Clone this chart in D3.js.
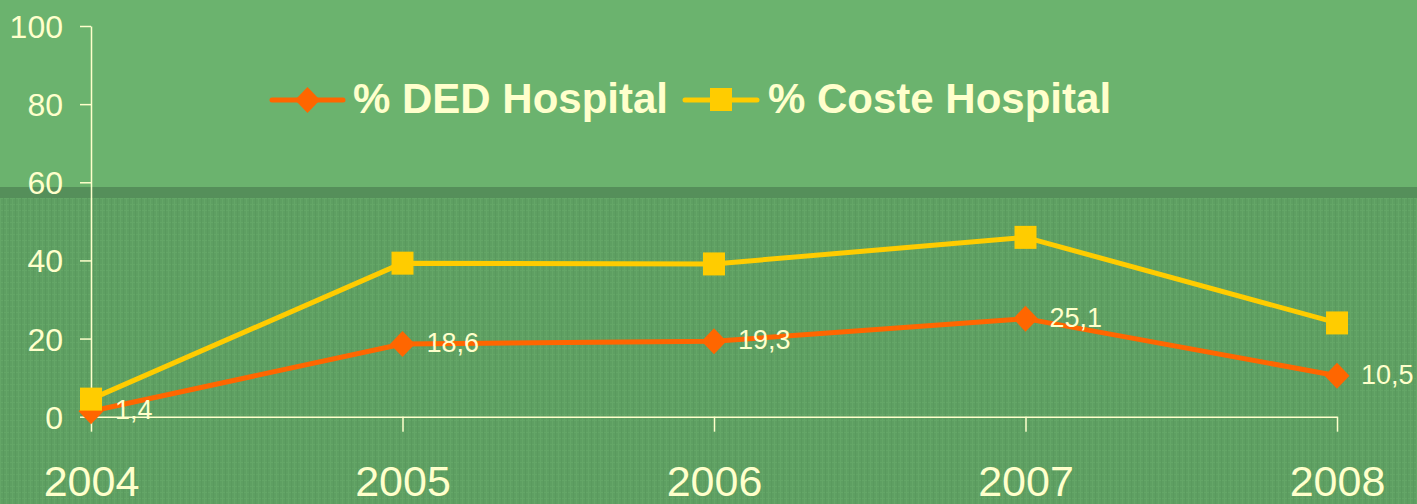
<!DOCTYPE html>
<html>
<head>
<meta charset="utf-8">
<title>DED / Coste Hospital</title>
<script src="https://cdnjs.cloudflare.com/ajax/libs/d3/7.8.5/d3.min.js"></script>
<style>
  html, body { margin: 0; padding: 0; background: #6bb36e; }
  svg { display: block; }
  text { font-family: "Liberation Sans", Arial, sans-serif; fill: #ffffcc; }
</style>
</head>
<body>
<script>
// data
const years = ["2004", "2005", "2006", "2007", "2008"];
const dedHospital = [1.4, 18.6, 19.3, 25.1, 10.5];
const costeHospital = [4.5, 39.3, 39.1, 45.9, 24.0];
const dedLabels = ["1,4", "18,6", "19,3", "25,1", "10,5"];
const yTicks = [0, 20, 40, 60, 80, 100];
const seriesNames = ["% DED Hospital", "% Coste Hospital"];

const W = 1417, H = 504;
const cream = "#ffffcc", orange = "#ff6600", yellow = "#ffcc00";

const svg = d3.select("body").append("svg")
  .attr("width", W).attr("height", H);

// background: plain band on top, dark strip, faint woven texture below
const defs = svg.append("defs");
const pat = defs.append("pattern")
  .attr("id", "weave").attr("patternUnits", "userSpaceOnUse")
  .attr("width", 6).attr("height", 6);
pat.append("rect").attr("width", 6).attr("height", 6).attr("fill", "#5e9f62");
pat.append("rect").attr("x", 0).attr("y", 0).attr("width", 6).attr("height", 1).attr("fill", "#64a667");
pat.append("rect").attr("x", 0).attr("y", 0).attr("width", 1).attr("height", 6).attr("fill", "#64a667");
pat.append("rect").attr("x", 3).attr("y", 0).attr("width", 1).attr("height", 6).attr("fill", "#5a9a5e");

svg.append("rect").attr("width", W).attr("height", 187).attr("fill", "#6bb36e");
svg.append("rect").attr("y", 187).attr("width", W).attr("height", 11).attr("fill", "#558f5a");
svg.append("rect").attr("y", 198).attr("width", W).attr("height", H - 198).attr("fill", "url(#weave)");

// scales
const x = d3.scalePoint().domain(years).range([91, 1337]);
const y = d3.scaleLinear().domain([0, 100]).range([416.7, 26]);

// y axis
const yAxis = svg.append("g")
  .attr("transform", "translate(91,0)")
  .call(d3.axisLeft(y).tickValues(yTicks).tickSize(11).tickSizeOuter(0).tickPadding(17));
yAxis.select(".domain").attr("stroke", cream).attr("stroke-width", 1.5);
yAxis.selectAll(".tick line").attr("stroke", cream).attr("stroke-width", 1.5);
yAxis.selectAll(".tick text")
  .attr("fill", cream).attr("font-size", 32).attr("dy", "0.36em")
  .attr("font-family", "Liberation Sans, Arial, sans-serif");

// x axis
const xAxis = svg.append("g")
  .attr("transform", "translate(0,416.7)")
  .call(d3.axisBottom(x).tickSize(15).tickSizeOuter(0).tickPadding(34));
xAxis.select(".domain").attr("stroke", cream).attr("stroke-width", 1.5);
xAxis.selectAll(".tick line").attr("stroke", cream).attr("stroke-width", 1.5);
xAxis.selectAll(".tick text")
  .attr("fill", cream).attr("font-size", 43).attr("dy", "0.71em")
  .attr("font-family", "Liberation Sans, Arial, sans-serif");

const line = d3.line()
  .x((d, i) => x(years[i]))
  .y(d => y(d));

const diamond = (cx, cy) => `M${cx},${cy - 13}L${cx + 12.5},${cy}L${cx},${cy + 13}L${cx - 12.5},${cy}Z`;

// DED series
svg.append("path").datum(dedHospital)
  .attr("d", line).attr("fill", "none")
  .attr("stroke", orange).attr("stroke-width", 5).attr("stroke-linejoin", "round");
svg.selectAll(".ded").data(dedHospital).join("path")
  .attr("class", "ded")
  .attr("d", (d, i) => diamond(x(years[i]), y(d)))
  .attr("fill", orange);

// Coste series
svg.append("path").datum(costeHospital)
  .attr("d", line).attr("fill", "none")
  .attr("stroke", yellow).attr("stroke-width", 5).attr("stroke-linejoin", "round");
svg.selectAll(".coste").data(costeHospital).join("rect")
  .attr("class", "coste")
  .attr("x", (d, i) => x(years[i]) - 11)
  .attr("y", d => y(d) - 11.5)
  .attr("width", 22).attr("height", 23)
  .attr("fill", yellow);

// value labels on DED
svg.selectAll(".lbl").data(dedHospital).join("text")
  .attr("class", "lbl")
  .attr("x", (d, i) => x(years[i]) + 24)
  .attr("y", d => y(d) + 8)
  .attr("font-size", 27)
  .text((d, i) => dedLabels[i]);

// legend
const legend = [
  { name: seriesNames[0], color: orange, x0: 272, x1: 343, tx: 353, mark: "diamond" },
  { name: seriesNames[1], color: yellow, x0: 685, x1: 757, tx: 768, mark: "square" }
];
const lg = svg.append("g");
legend.forEach(l => {
  lg.append("line")
    .attr("x1", l.x0).attr("x2", l.x1).attr("y1", 100).attr("y2", 100)
    .attr("stroke", l.color).attr("stroke-width", 5).attr("stroke-linecap", "round");
  const cx = (l.x0 + l.x1) / 2;
  if (l.mark === "diamond") {
    lg.append("path").attr("d", diamond(cx, 100)).attr("fill", l.color);
  } else {
    lg.append("rect").attr("x", cx - 11).attr("y", 88).attr("width", 22).attr("height", 23).attr("fill", l.color);
  }
  lg.append("text")
    .attr("x", l.tx).attr("y", 113)
    .attr("font-size", 42).attr("font-weight", "bold")
    .text(l.name);
});
</script>
</body>
</html>
